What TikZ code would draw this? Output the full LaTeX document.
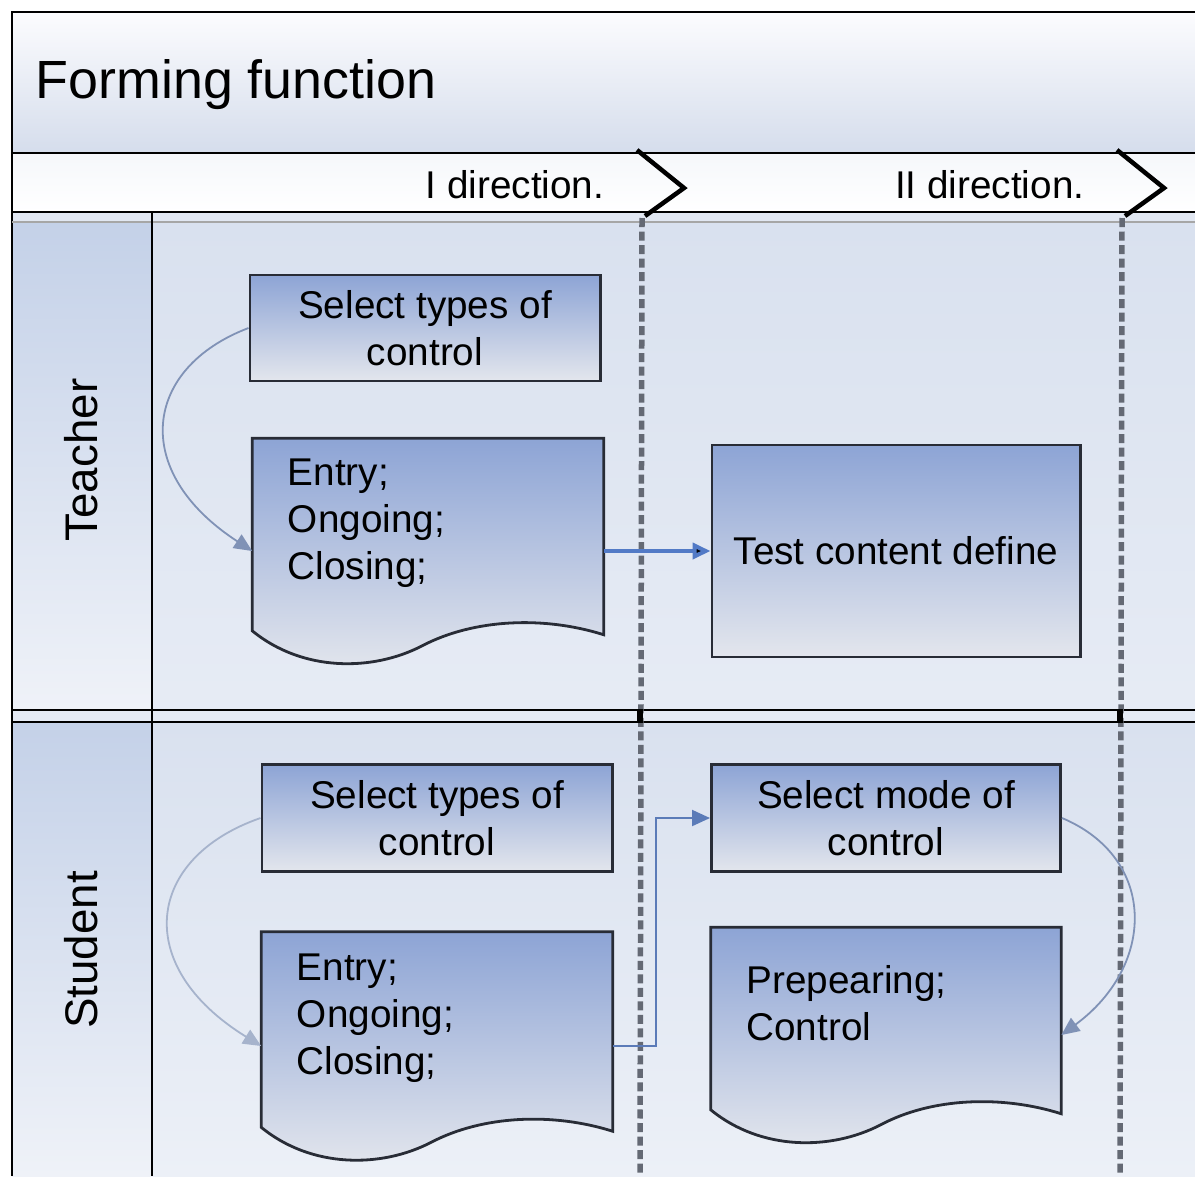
\documentclass[tikz,border=0pt]{standalone}
\usepackage{fontspec}
\setmainfont{Liberation Sans}
\usetikzlibrary{calc,arrows.meta}

\definecolor{boxtop}{RGB}{141,164,213}
\definecolor{boxbot}{RGB}{227,230,237}
\definecolor{boxline}{RGB}{40,44,54}
\definecolor{lanetop}{RGB}{217,225,239}
\definecolor{lanebot}{RGB}{236,240,247}
\definecolor{headtop}{RGB}{196,209,232}
\definecolor{headbot}{RGB}{239,242,248}
\definecolor{titletop}{RGB}{252,252,254}
\definecolor{titlebot}{RGB}{213,221,236}
\definecolor{flow}{RGB}{82,122,198}
\definecolor{loop}{RGB}{128,146,182}
\definecolor{phase}{RGB}{100,105,116}

\pgfdeclarelayer{back}
\pgfsetlayers{back,main}

% document shape with the wavy bottom, drawn round a named node
\newcommand{\docshape}[1]{%
  \shadedraw[top color=boxtop,bottom color=boxbot,draw=boxline,line width=0.028cm]
    (#1.north west) -- (#1.north east) -- ($(#1.south east)+(0,-29)$)
    .. controls ($(#1.south east)+(-60,-48)$) and ($(#1.south east)+(-130,-45)$) .. ($(#1.south west)+(170,-18)$)
    .. controls ($(#1.south west)+(120,8)$) and ($(#1.south west)+(50,8)$) .. ($(#1.south west)+(0,-33)$) -- cycle;}

\begin{document}
\begin{tikzpicture}[x=0.01cm, y=-0.01cm,
  >={Triangle[length=0.18cm,width=0.16cm]},
  font=\fontsize{11}{13.4}\selectfont,
  taskbox/.style={draw=boxline, line width=0.028cm, top color=boxtop, bottom color=boxbot,
    minimum width=3.5cm, minimum height=1.06cm, align=center, inner sep=0pt},
  docbox/.style={minimum width=3.5cm, text width=2.8cm, align=left, inner xsep=0.35cm,
    inner ysep=0pt, execute at end node={\rule[-0.64cm]{0pt}{0pt}}},
  lanelabel/.style={rotate=90, font=\fontsize{13}{15}\selectfont},
  heading/.style={inner sep=0pt},
  phasesep/.style={draw=phase, line width=0.055cm, dash pattern=on 0.09cm off 0.045cm},
  chevron/.style={line width=0.045cm, line join=miter},
  rule/.style={line width=0.026cm},
  flowline/.style={->, draw=flow, line width=0.04cm},
  elbowline/.style={->, draw=flow!80!gray, line width=0.02cm},
  loopline/.style={->, draw=loop, line width=0.018cm}]
\useasboundingbox (0,0) rectangle (1195,1176);

% pool, lanes and phases
\begin{pgfonlayer}{back}
  \shade[top color=titletop, bottom color=titlebot] (12,12) rectangle (1195,153);
  \shade[top color=headbot!60!white, bottom color=white] (12,153) rectangle (1195,212);
  \fill[lanetop!80!white] (12,212) rectangle (1195,222);
  \shade[top color=lanetop, bottom color=lanebot!70!lanetop] (152,222) rectangle (1195,710);
  \shade[top color=lanetop, bottom color=lanebot] (152,722) rectangle (1195,1176);
  \shade[top color=headtop, bottom color=headbot] (12,222) rectangle (152,710);
  \shade[top color=headtop, bottom color=headbot] (12,722) rectangle (152,1176);
  \fill[lanetop!70!white] (12,710) rectangle (1195,722);

  \draw[rule] (12,1176) -- (12,12) -- (1195,12);
  \draw[rule] (12,153) -- (1195,153);
  \draw[rule] (12,212) -- (1195,212);
  \draw[gray!70, line width=0.015cm] (12,222) -- (1195,222);
  \draw[rule] (12,710) -- (1195,710);
  \draw[rule] (12,722) -- (1195,722);
  \draw[rule] (152,212) -- (152,1176);

  \foreach \px in {640,1120} {
    \draw[phasesep] (\px+2,218) -- (\px,1176);
    \fill (\px-3,709) rectangle (\px+3,723);
  }
  \draw[chevron] (637,150) -- (684,188) -- (645,216);
  \draw[chevron] (1117,150) -- (1164,188) -- (1125,216);
\end{pgfonlayer}

\node[heading, anchor=base west, font=\fontsize{15.3}{18}\selectfont] (title) at (35,99) {Forming function};
\node[heading, anchor=base east] (dir1) at (605,199) {I direction.};
\node[heading, anchor=base east] (dir2) at (1085,199) {II direction.};
\node[lanelabel] (teacher) at (81,460) {Teacher};
\node[lanelabel] (student) at (81,950) {Student};

% Teacher
\node[taskbox] (tsel) at (425,328) {Select types of\\control};
\node[docbox, minimum height=2.24cm] (tdoc) at (428,551) {Entry;\\Ongoing;\\Closing;};
\node[taskbox, minimum width=3.68cm, minimum height=2.12cm] (ttest) at (896,551) {Test content define};

% Student
\node[taskbox, minimum height=1.07cm] (ssel) at (437,818) {Select types of\\control};
\node[docbox, minimum height=2.27cm] (sdoc) at (437,1046) {Entry;\\Ongoing;\\Closing;};
\node[taskbox, minimum width=3.49cm, minimum height=1.07cm] (smode) at (886,818) {Select mode of\\control};
\node[docbox, minimum width=3.49cm, text width=2.79cm, minimum height=2.14cm] (sprep) at (886,1035) {Prepearing;\\Control};

\begin{pgfonlayer}{back}
  \docshape{tdoc}
  \docshape{sdoc}
  \docshape{sprep}
\end{pgfonlayer}

\path[flowline] (tdoc) edge (ttest);
\draw[elbowline] (sdoc.east) -- ++(43,0) |- (smode.west);
\draw[loopline] (tsel.west) .. controls +(-105,40) and +(-123,-80) .. (tdoc.west);
\draw[loopline, draw=loop!70!white] (ssel.west) .. controls +(-115,40) and +(-130,-80) .. (sdoc.west);
\draw[loopline] (smode.east) .. controls +(95,40) and +(95,-70) .. (sprep.east);
\end{tikzpicture}
\end{document}
